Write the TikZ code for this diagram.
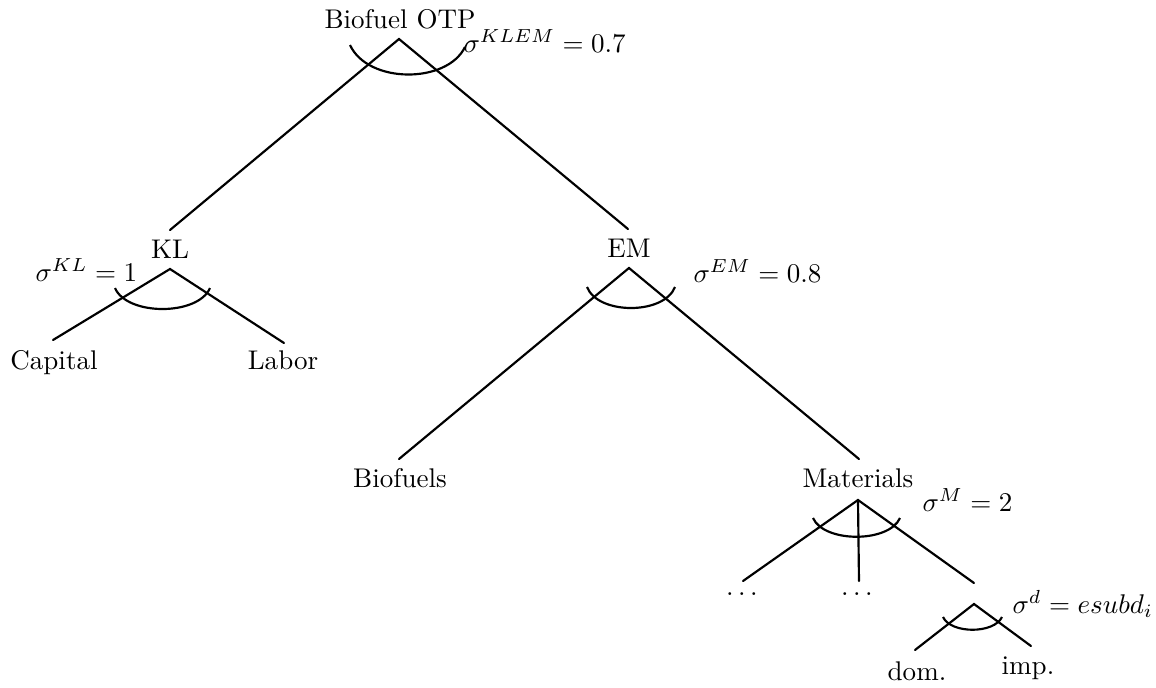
\documentclass[tikz,border=0pt]{standalone}
\begin{document}
\begin{tikzpicture}[x=0.37pt,y=-0.37pt,
  branch/.style={line width=0.8pt, line cap=round},
  nest/.style={line width=0.8pt},
  lbl/.style={inner sep=0pt, anchor=base},
  elast/.style={inner sep=0pt, anchor=base west}]
\useasboundingbox (0,0) rectangle (1156,687);

% node labels
\node[lbl] (otp) at (400,28) {Biofuel OTP};
\node[lbl] (kl)  at (170,258) {KL};
\node[lbl] (em)  at (629,257) {EM};
\node[lbl] (cap) at (54,369) {Capital};
\node[lbl] (lab) at (283,369) {Labor};
\node[lbl] (bio) at (400,487) {Biofuels};
\node[lbl] (mat) at (858,487) {Materials};
\node[lbl] (dots1) at (742,595) {$\ldots$};
\node[lbl] (dots2) at (857,595) {$\ldots$};
\node[lbl] (dom) at (917,680) {dom.};
\node[lbl] (imp) at (1028,674) {imp.};

% elasticities
\node[elast] (sklem) at (463,52) {$\sigma^{KLEM} = 0.7$};
\node[elast] (skl)   at (35,281) {$\sigma^{KL} = 1$};
\node[elast] (sem)   at (693,282) {$\sigma^{EM} = 0.8$};
\node[elast] (sm)    at (922,511) {$\sigma^{M} = 2$};
\node[elast] (sd)    at (1012,613) {$\sigma^{d} = esubd_i$};

% branch points and branch ends
\coordinate (otp-a) at (399,39);
\coordinate (kl-t)  at (170,230);
\coordinate (em-t)  at (628,229);
\coordinate (kl-a)  at (170,269);
\coordinate (cap-t) at (53,340);
\coordinate (lab-t) at (284,343);
\coordinate (em-a)  at (629,268);
\coordinate (bio-t) at (399,459);
\coordinate (mat-t) at (859,459);
\coordinate (mat-a) at (858,500);
\coordinate (d1-t)  at (743,581);
\coordinate (d2-t)  at (859,581);
\coordinate (dm-t)  at (974,583);
\coordinate (dm-a)  at (974,604);
\coordinate (dom-t) at (915,650);
\coordinate (imp-t) at (1031,646);

% branches
\draw[branch] (kl-t) -- (otp-a) -- (em-t);
\draw[branch] (cap-t) -- (kl-a) -- (lab-t);
\draw[branch] (bio-t) -- (em-a) -- (mat-t);
\draw[branch] (d1-t) -- (mat-a) -- (dm-t);
\draw[branch] (mat-a) -- (d2-t);
\draw[branch] (dom-t) -- (dm-a) -- (imp-t);

% substitution arcs
\draw[nest] (350,45) .. controls (368,84) and (447,84) .. (465,47);
\draw[nest] (115,288) .. controls (127,316) and (198,316) .. (210,288);
\draw[nest] (587,287) .. controls (598,315) and (664,315) .. (675,287);
\draw[nest] (813,518) .. controls (824,543) and (889,543) .. (900,518);
\draw[nest] (943,617) .. controls (951,634) and (994,634) .. (1002,617);
\end{tikzpicture}
\end{document}
